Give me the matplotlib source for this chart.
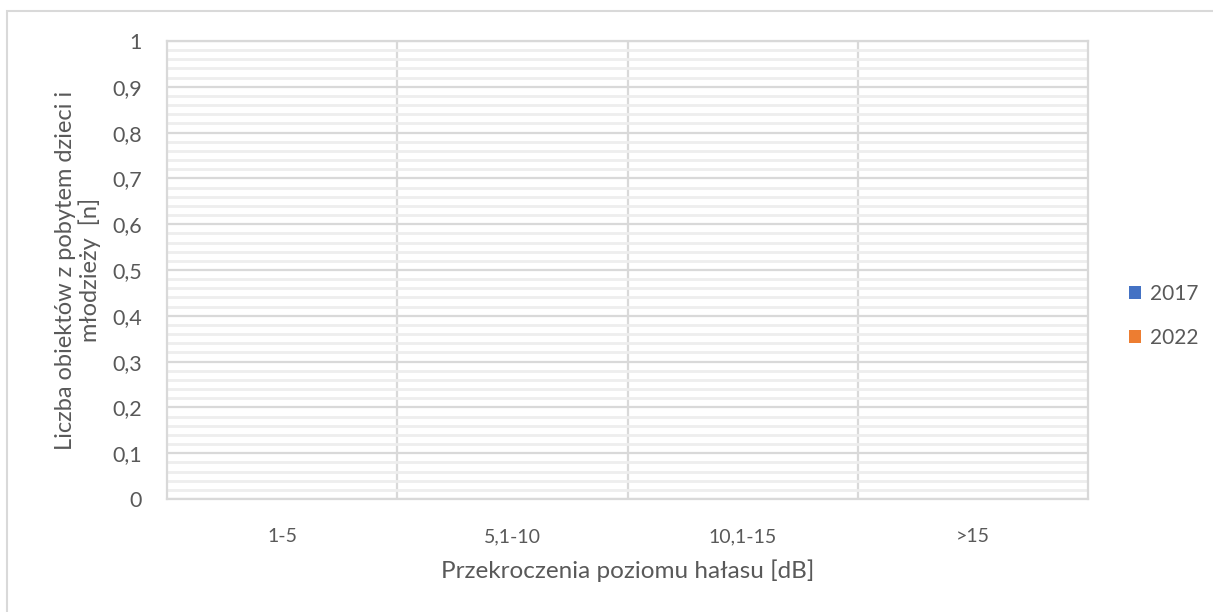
import matplotlib.pyplot as plt
import numpy as np
from matplotlib.patches import Rectangle
from matplotlib.ticker import MultipleLocator, FixedLocator

plt.rcParams['font.family'] = ['Lato', 'DejaVu Sans']

# data
categories = ["1-5", "5,1-10", "10,1-15", ">15"]
series_names = ["2017", "2022"]
values_2017 = [0, 0, 0, 0]
values_2022 = [0, 0, 0, 0]
colors = ["#4472c4", "#ed7d31"]
yticks = [0, 0.1, 0.2, 0.3, 0.4, 0.5, 0.6, 0.7, 0.8, 0.9, 1]

text_col = "#595959"
major_col = "#d9d9d9"
minor_col = "#eeeeee"

fig = plt.figure(figsize=(12.13, 6.12), dpi=100)
ax = fig.add_axes([167 / 1213, 1 - 499 / 612, (1088 - 167) / 1213, (499 - 41) / 612])

# outer chart frame
fig.patches.append(Rectangle((7 / 1213, -0.05), 1.1, 1 - 11 / 612 + 0.05,
                             transform=fig.transFigure, fill=False,
                             edgecolor="#d9d9d9", linewidth=1.5))

x = np.arange(len(categories))
w = 0.35
ax.bar(x - w / 2, values_2017, w, color=colors[0], label=series_names[0])
ax.bar(x + w / 2, values_2022, w, color=colors[1], label=series_names[1])

ax.set_xlim(-0.5, len(categories) - 0.5)
ax.set_ylim(0, 1)
ax.set_yticks(yticks)
ax.set_yticklabels([("%g" % t).replace(".", ",") for t in yticks])
ax.yaxis.set_minor_locator(MultipleLocator(0.02))
ax.set_xticks(x)
ax.set_xticklabels(categories)
ax.xaxis.set_minor_locator(FixedLocator(np.arange(0.5, len(categories) - 0.5, 1)))

ax.grid(which="minor", axis="y", color=minor_col, linewidth=2)
ax.grid(which="major", axis="y", color=major_col, linewidth=1.6)
ax.grid(which="minor", axis="x", color=major_col, linewidth=1.6)
ax.set_axisbelow(True)

for s in ax.spines.values():
    s.set_color(major_col)
    s.set_linewidth(1.6)

ax.tick_params(which="both", length=0)
ax.tick_params(axis="y", labelsize=15.5, labelcolor=text_col, pad=18)
ax.tick_params(axis="x", labelsize=14, labelcolor=text_col, pad=21)

ax.set_xlabel("Przekroczenia poziomu hałasu [dB]", fontsize=17.5, color=text_col, labelpad=10)
ax.set_ylabel("Liczba obiektów z pobytem dzieci i\nmłodzieży  [n]", fontsize=17,
              color=text_col, labelpad=8, linespacing=1.15)

ax.legend(loc="center left", bbox_to_anchor=(1.024, 0.40), frameon=False,
          fontsize=15, labelcolor=text_col, handlelength=0.6, handleheight=0.6,
          handletextpad=0.4, labelspacing=1.15)

fig.savefig("out.png", dpi=100)
